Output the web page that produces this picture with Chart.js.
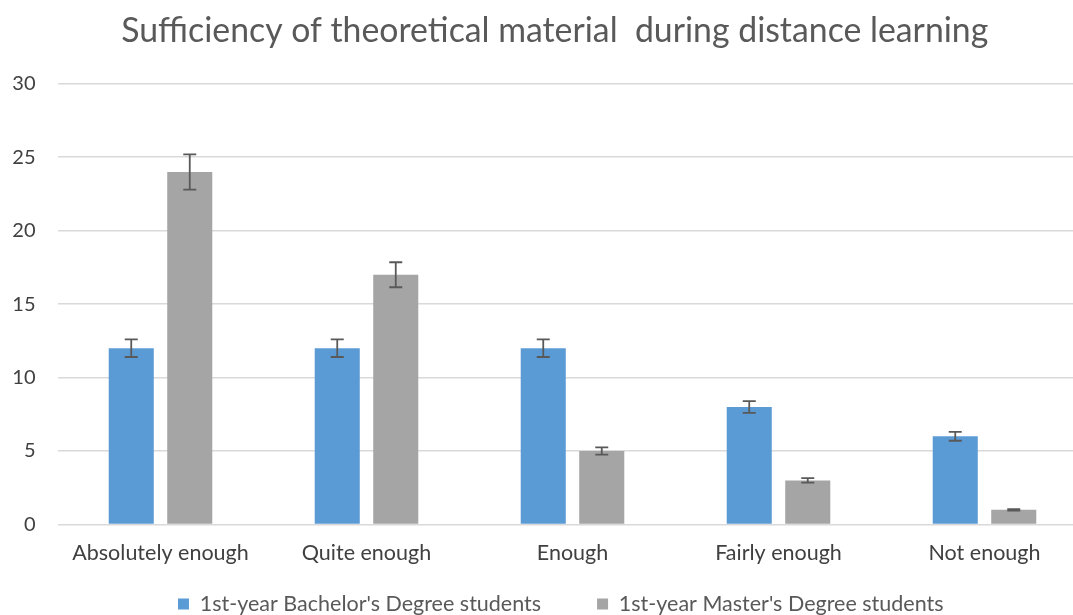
<!DOCTYPE html>
<html>
<head>
<meta charset="utf-8">
<script src="https://cdn.jsdelivr.net/npm/chart.js@4"></script>
<style>
  html, body { margin: 0; padding: 0; background: #ffffff; overflow: hidden; }
  #wrap { position: relative; width: 1110px; height: 658px; }
</style>
</head>
<body>
<div id="wrap"><canvas id="c"></canvas></div>
<script>
const titleText = "Sufficiency of theoretical material  during distance learning";
const categories = ["Absolutely enough", "Quite enough", "Enough", "Fairly enough", "Not enough"];
const seriesNames = ["1st-year Bachelor's Degree students", "1st-year Master's Degree students"];
const bachelorValues = [12, 12, 12, 8, 6];
const masterValues = [24, 17, 5, 3, 1];
const bachelorErrors = [0.6, 0.6, 0.6, 0.4, 0.3];
const masterErrors = [1.2, 0.85, 0.25, 0.15, 0.05];
const yTicks = [0, 5, 10, 15, 20, 25, 30];

const FONT = "Lato, 'Open Sans', sans-serif";

const errorBarPlugin = {
  id: 'errorBars',
  afterDatasetsDraw(chart) {
    const ctx = chart.ctx;
    const yScale = chart.scales.y;
    chart.data.datasets.forEach((ds, i) => {
      const meta = chart.getDatasetMeta(i);
      if (meta.hidden) return;
      meta.data.forEach((bar, j) => {
        const v = ds.data[j];
        const e = ds.errors[j];
        const yTop = yScale.getPixelForValue(v + e);
        const yBot = yScale.getPixelForValue(v - e);
        const x = bar.x;
        const cap = 6.5;
        ctx.save();
        ctx.strokeStyle = '#595959';
        ctx.lineWidth = 1.8;
        ctx.beginPath();
        ctx.moveTo(x, yTop); ctx.lineTo(x, yBot);
        ctx.moveTo(x - cap, yTop); ctx.lineTo(x + cap, yTop);
        ctx.moveTo(x - cap, yBot); ctx.lineTo(x + cap, yBot);
        ctx.stroke();
        ctx.restore();
      });
    });
  }
};

// place title / legend blocks like the original
const placementPlugin = {
  id: 'placement',
  afterLayout(chart) {
    const lg = chart.legend;
    if (lg) {
      const dy = 537.25 - lg.top;
      lg.top += dy; lg.bottom += dy;
      lg.left += 11; lg.right += 11;
    }
    const tb = chart.titleBlock;
    if (tb) { tb.left += 5; tb.right += 5; }
  }
};

new Chart(document.getElementById('c'), {
  type: 'bar',
  data: {
    labels: categories,
    datasets: [
      { label: seriesNames[0], data: bachelorValues, errors: bachelorErrors,
        backgroundColor: '#5B9BD5', categoryPercentage: 0.568, barPercentage: 0.77 },
      { label: seriesNames[1], data: masterValues, errors: masterErrors,
        backgroundColor: '#A5A5A5', categoryPercentage: 0.568, barPercentage: 0.77 }
    ]
  },
  options: {
    responsive: true,
    maintainAspectRatio: false,
    animation: false,
    layout: { padding: { left: 12, right: 22.5, top: 0, bottom: 0 } },
    plugins: {
      title: {
        display: true, text: titleText, color: '#595959',
        font: { family: FONT, size: 33.8, weight: 'normal' },
        padding: { top: 10.6, bottom: 32.6 }
      },
      legend: {
        position: 'bottom',
        labels: {
          color: '#595959', boxWidth: 11, boxHeight: 11, padding: 56,
          font: { family: FONT, size: 21.5 }
        }
      },
      tooltip: { enabled: false }
    },
    scales: {
      x: {
        grid: { display: false, drawTicks: false },
        border: { display: false },
        afterFit(axis) { axis.height = 46; },
        ticks: { color: '#404040', font: { family: FONT, size: 21.5 }, padding: 16, maxRotation: 0 }
      },
      y: {
        min: 0, max: 30,
        afterBuildTicks(axis) { axis.ticks = yTicks.map(v => ({ value: v })); },
        afterFit(axis) { axis.width = 45.5; },
        grid: { color: '#d9d9d9', lineWidth: 1.5, drawTicks: false },
        border: { display: false },
        ticks: { color: '#404040', font: { family: FONT, size: 20 }, padding: 22 }
      }
    }
  },
  plugins: [errorBarPlugin, placementPlugin]
});
</script>
</body>
</html>
